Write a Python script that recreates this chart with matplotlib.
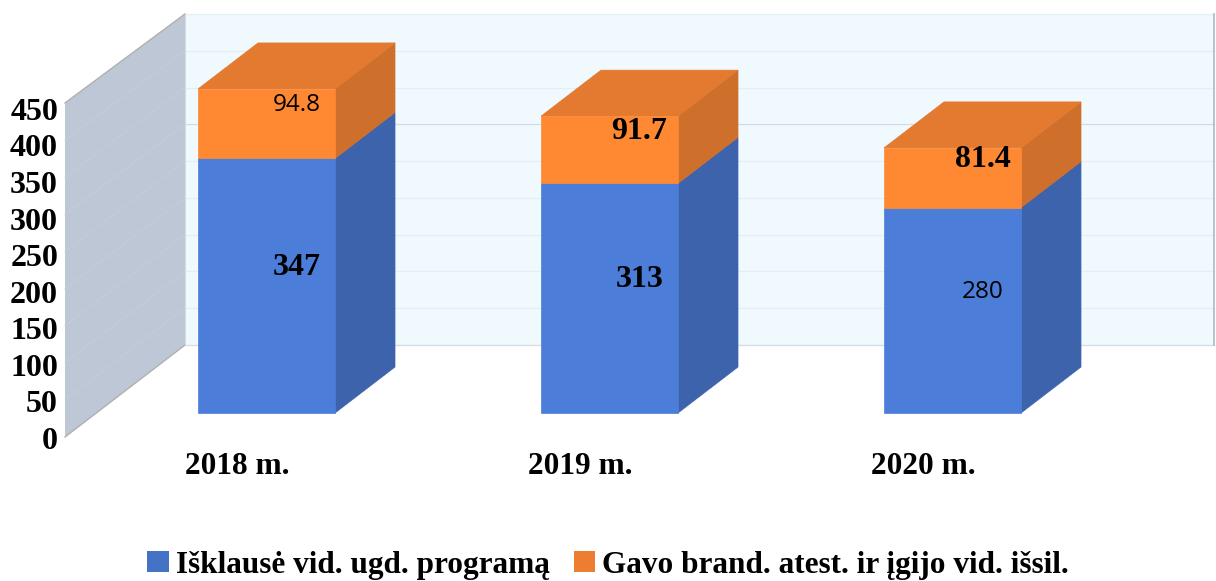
import matplotlib
matplotlib.use("Agg")
import matplotlib.pyplot as plt
from matplotlib.patches import Patch, Polygon

years = ["2018 m.", "2019 m.", "2020 m."]
completed = [347, 313, 280]
certified = [94.8, 91.7, 81.4]
y_ticks = [0, 50, 100, 150, 200, 250, 300, 350, 400, 450]
series_names = ["Išklausė vid. ugd. programą", "Gavo brand. atest. ir įgijo vid. išsil."]

W, H = 1216, 581
PX_PER_CAT = 343.0
PX_PER_VAL = 0.7335
X0_PX, Y0_PX = 266.5, 413.0
BAR_W = 137 / PX_PER_CAT
DX, DY = 60 / PX_PER_CAT, 46 / PX_PER_VAL  # bar depth in data units
TEXT_DROP = 4.5 / PX_PER_VAL  # va="center" sits a little high for these fonts

SERIF = "Liberation Serif"
SANS = "Open Sans"

fig = plt.figure(figsize=(W / 100, H / 100), dpi=100)
ax = fig.add_axes([0, 0, 1, 1])
ax.set_xlim(-X0_PX / PX_PER_CAT, (W - X0_PX) / PX_PER_CAT)
ax.set_ylim((Y0_PX - H) / PX_PER_VAL, Y0_PX / PX_PER_VAL)
ax.axis("off")


def box(x, low, high, front, side, top=None):
    """Draw one 3D-looking bar segment with its front at x."""
    l, r = x - BAR_W / 2, x + BAR_W / 2
    ax.add_patch(Polygon([(r, low), (r + DX, low + DY), (r + DX, high + DY), (r, high)],
                         fc=side, ec=side, lw=0.5, zorder=3))
    ax.add_patch(Polygon([(l, low), (r, low), (r, high), (l, high)],
                         fc=front, ec=front, lw=0.5, zorder=4))
    if top:
        ax.add_patch(Polygon([(l, high), (r, high), (r + DX, high + DY), (l + DX, high + DY)],
                             fc=top, ec=top, lw=0.5, zorder=3))


# walls
wall_l = (65 - X0_PX) / PX_PER_CAT
wall_b = (185 - X0_PX) / PX_PER_CAT
wall_r = (1214 - X0_PX) / PX_PER_CAT
base = (Y0_PX - 437) / PX_PER_VAL
front_gain, back_gain = 1.012, 1.003


def y_front(v):
    return base + v * front_gain


def y_back(v):
    return base + 2 * DY + v * back_gain


ax.add_patch(Polygon([(wall_b, y_back(0)), (wall_r, y_back(0)), (wall_r, y_back(450)), (wall_b, y_back(450))],
                     fc="#F0F9FE", ec="none", zorder=1))
ax.add_patch(Polygon([(wall_l, y_front(0)), (wall_b, y_back(0)), (wall_b, y_back(450)), (wall_l, y_front(450))],
                     fc="#BEC7D6", ec="none", zorder=1))
for v in y_ticks:
    dark = v in (0, 300)
    ax.plot([wall_b, wall_r], [y_back(v), y_back(v)], color="#D3DCE2" if dark else "#E7EEF2", lw=0.9, zorder=2)
    if v not in (0, 450):
        ax.plot([wall_l, wall_b], [y_front(v), y_back(v)], color="#C6CCD8", lw=0.7, zorder=2)
ax.plot([wall_l, wall_b], [y_front(0), y_back(0)], color="#B0B0B0", lw=1.0, zorder=2)
ax.plot([wall_l, wall_b], [y_front(450), y_back(450)], color="#B0B0B0", lw=1.0, zorder=2)
ax.plot([wall_b, wall_b], [y_back(0), y_back(450)], color="#D5DAE2", lw=0.8, zorder=2)
ax.plot([wall_r, wall_r], [y_back(0), y_back(450)], color="#AEB8C4", lw=1.2, zorder=2)

# bars
for i, (a, b) in enumerate(zip(completed, certified)):
    box(i, 0, a, "#4C7DD9", "#3C63AB")
    box(i, a, a + b, "#FF8833", "#CE6F2C", top="#E37A2F")

# value labels, placed at the middle of the bar depth
label_bold = [[True, False], [True, True], [False, True]]
for i, (a, b) in enumerate(zip(completed, certified)):
    for v, mid, bold in zip((a, b), (a / 2, a + b / 2), label_bold[i]):
        style = dict(family=SERIF, fontsize=23, fontweight="bold") if bold else dict(family=SANS, fontsize=17.5)
        ax.text(i + DX / 2, mid + DY / 2 - TEXT_DROP, str(v), ha="center", va="center",
                color="black", zorder=6, **style)

# axis labels
for v in y_ticks:
    ax.text((58 - X0_PX) / PX_PER_CAT, base + v * 0.997 - TEXT_DROP, str(v), ha="right", va="center",
            family=SERIF, fontweight="bold", fontsize=23, color="black")
for i, name in enumerate(years):
    ax.text(i - 29 / PX_PER_CAT, (Y0_PX - 467) / PX_PER_VAL, name, ha="center", va="center",
            family=SERIF, fontweight="bold", fontsize=22.5, color="black")

handles = [Patch(fc="#4472C4", ec="none", label=series_names[0]),
           Patch(fc="#ED7D31", ec="none", label=series_names[1])]
ax.legend(handles=handles, ncol=2, loc="center", bbox_to_anchor=(608 / W, 1 - 565 / H),
          frameon=False, prop=dict(family=SERIF, weight="bold", size=22.5),
          handlelength=0.68, handleheight=0.68, handletextpad=0.22, columnspacing=0.78)

fig.savefig("out.png", dpi=100)
